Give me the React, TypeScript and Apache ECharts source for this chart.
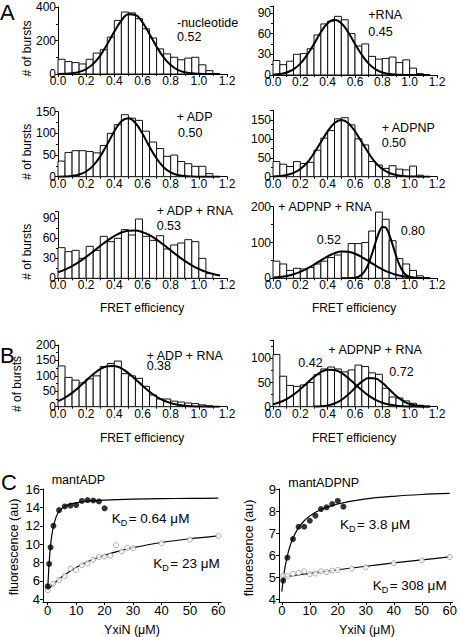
import React, { useEffect, useRef } from 'react';
import * as echarts from 'echarts';

const FONT = '"Liberation Sans", Arial, Helvetica, sans-serif';
const BIN = 0.05;

// ---- Histogram counts (bins of width 0.05 starting at 0.0) ----
const histNoNuc = [88, 74, 68, 60, 88, 125, 145, 220, 320, 370, 365, 330, 270, 215, 150, 120, 100, 85, 95, 100, 55, 20];
const histRNA = [21, 15, 20, 30, 31, 38, 58, 74, 78, 85, 80, 60, 42, 45, 27, 23, 24, 26, 18, 22, 10, 2];
const histADP = [36, 56, 60, 60, 58, 55, 72, 100, 120, 143, 135, 130, 105, 80, 65, 47, 50, 35, 30, 24, 24, 7];
const histADPNP = [40, 33, 27, 40, 35, 38, 70, 102, 122, 153, 156, 137, 100, 84, 40, 31, 22, 29, 20, 18, 28, 4];
const histADPRNA = [46, 40, 42, 30, 48, 42, 63, 55, 60, 73, 65, 89, 63, 57, 64, 44, 50, 53, 58, 55, 30, 7];
const histADPNPRNA = [48, 40, 22, 28, 26, 30, 40, 48, 58, 65, 75, 97, 97, 100, 132, 185, 165, 105, 55, 40, 22, 7];
const histB_ADPRNA = [132, 95, 86, 77, 90, 100, 130, 140, 148, 107, 100, 92, 66, 38, 25, 25, 18, 15, 12, 10, 6, 3];
const histB_ADPNPRNA = [108, 63, 44, 42, 45, 50, 66, 78, 82, 78, 72, 76, 86, 83, 70, 67, 38, 20, 18, 12, 7, 3];

// ---- Gaussian fit curves ----
const fitX = [0, 0.05, 0.1, 0.15, 0.2, 0.25, 0.3, 0.35, 0.4, 0.45, 0.5, 0.55, 0.6, 0.65, 0.7, 0.75, 0.8, 0.85, 0.9, 0.95, 1.0, 1.05, 1.1, 1.15];
const fitNoNuc = [0.5, 1.6, 4.8, 12.6, 29.5, 60.6, 110, 178, 253, 319, 356, 352, 308, 238, 163, 99, 53, 25, 10.5, 3.9, 1.3, 0.4, 0.1, 0];
const fitRNA = [0.5, 1.4, 3.6, 8.2, 16.4, 29, 45, 62, 75, 80, 75, 62, 45, 29, 16.4, 8.2, 3.6, 1.4, 0.5, 0.15, 0, 0, 0, 0];
const fitADP = [0.15, 0.55, 1.8, 4.9, 12, 25.5, 47, 75, 105, 128, 135, 124, 99, 69, 42, 22, 10, 4, 1.4, 0.4, 0.1, 0, 0, 0];
const fitADPNP = [0.6, 1.7, 4.3, 9.9, 20.3, 37, 62, 91, 120, 142, 150, 142, 120, 91, 62, 37, 20.3, 9.9, 4.3, 1.7, 0.6, 0.2, 0, 0];
const fitADPRNA = [9.0, 13.1, 18.3, 24.7, 32.1, 40.3, 48.7, 56.6, 63.5, 68.7, 71.5, 71.8, 69.4, 64.7, 58.1, 50.3, 42.0, 33.7, 26.1, 19.5, 14.0, 9.7, 6.5, 4.2];
const fitADPNPRNAlow = [1.7, 3.5, 6.4, 11.1, 18.0, 27.2, 38.2, 50.1, 61.4, 70.0, 74.6, 74.1, 68.6, 59.3, 47.8, 35.9, 25.2, 16.5, 10.0, 5.7, 3.0, 1.5, 0.7, 0.3];
const fitADPNPRNAhighX = [0.5, 0.55, 0.6, 0.625, 0.65, 0.675, 0.7, 0.725, 0.75, 0.775, 0.8, 0.825, 0.85, 0.875, 0.9, 0.925, 0.95, 0.975, 1.0, 1.05, 1.1, 1.15];
const fitADPNPRNAhigh = [0, 0.14, 1.6, 4.3, 10.5, 22.4, 42, 69, 100, 128, 143.5, 141.7, 123, 94, 63, 37.4, 19.5, 8.9, 3.6, 0.4, 0, 0];
const fitB_ADPRNA = [18, 29.4, 44.9, 63.9, 84.9, 105.2, 121.7, 131.4, 132.3, 124.3, 109, 89.1, 68, 48.5, 32.2, 20, 11.6, 6.2, 3.1, 1.5, 0.65, 0.3, 0.1, 0];
const fitB_low = [5.0, 9.3, 15.8, 24.9, 36.4, 49.2, 61.6, 71.4, 76.5, 75.9, 69.7, 59.3, 46.6, 34, 22.9, 14.3, 8.2, 4.4, 2.2, 1.0, 0.4, 0.15, 0, 0];
const fitB_highX = [0.3, 0.35, 0.4, 0.45, 0.5, 0.55, 0.6, 0.65, 0.7, 0.75, 0.8, 0.85, 0.9, 0.95, 1.0, 1.05, 1.1, 1.15];
const fitB_high = [0.3, 0.95, 2.7, 6.6, 13.8, 25, 38.8, 51.7, 59.3, 58.4, 49.4, 36, 22.5, 12.1, 5.6, 2.2, 0.8, 0.2];

// ---- Panel C titrations ----
const cADPx = [0, 0.5, 1, 2, 4, 6, 8, 10, 12, 14, 16, 18, 20];
const cADPy = [5.4, 7.85, 9.65, 12.0, 13.7, 14.1, 14.2, 14.25, 14.7, 14.8, 14.75, 14.65, 13.9];
const cADPlowX = [0, 2, 4, 6, 8, 10, 12, 14, 16, 18, 20, 22, 24, 26, 28, 30, 40, 50, 60];
const cADPlowY = [5.0, 5.7, 6.1, 6.55, 7.35, 7.2, 7.7, 7.9, 8.3, 8.6, 8.65, 8.75, 9.9, 9.2, 9.6, 9.55, 10.1, 10.5, 10.9];
const fitCADPx = [0, 0.5, 1, 1.5, 2, 3, 4, 6, 8, 10, 15, 20, 30, 40, 50, 60];
const fitCADPy = [5.1, 8.0, 9.9, 11.1, 11.9, 13.0, 13.6, 14.1, 14.35, 14.5, 14.7, 14.8, 14.9, 14.95, 14.98, 15.0];
const fitCADPlowX = [0, 2, 5, 10, 15, 20, 25, 30, 40, 50, 60];
const fitCADPlowY = [5.0, 5.65, 6.46, 7.47, 8.22, 8.8, 9.25, 9.62, 10.18, 10.59, 10.9];

const cADPNPx = [0.5, 2, 4, 6, 8, 10, 12, 14, 16, 18, 20, 22];
const cADPNPy = [4.85, 5.89, 6.73, 7.29, 7.29, 7.56, 7.79, 8.09, 8.17, 8.32, 8.46, 8.2];
const cADPNPlowX = [0.5, 2, 4, 6, 8, 10, 12, 14, 16, 18, 20, 25, 30, 40, 50, 60];
const cADPNPlowY = [5.07, 5.05, 5.15, 5.2, 5.27, 5.14, 5.17, 5.27, 5.24, 5.3, 5.33, 5.4, 5.45, 5.64, 5.77, 5.92];
const fitCADPNPx = [0, 1, 2, 3, 4, 6, 8, 10, 14, 20, 30, 40, 50, 60];
const fitCADPNPy = [4.35, 5.34, 5.98, 6.44, 6.78, 7.25, 7.56, 7.78, 8.07, 8.32, 8.55, 8.67, 8.75, 8.8];
const fitCADPNPlowX = [0, 10, 20, 30, 40, 50, 60];
const fitCADPNPlowY = [5.0, 5.18, 5.34, 5.5, 5.65, 5.79, 5.92];

const cXTicks = [0, 10, 20, 30, 40, 50, 60];
const cADPYTicks = [4, 6, 8, 10, 12, 14, 16];
const cADPNPYTicks = [4, 5, 6, 7, 8, 9];

const zip = (xs: number[], ys: number[]) => xs.map((x, i) => [x, ys[i]]);

const axisLineStyle = { show: true, onZero: false, lineStyle: { color: '#000', width: 1 } };
const tickStyle = { show: true, inside: false, length: 3, lineStyle: { color: '#000', width: 1 } };
const minorStyle = { show: true, splitNumber: 2, length: 2, lineStyle: { color: '#000', width: 1 } };

function histX(idx: number) {
  return {
    gridIndex: idx, type: 'value', min: 0, max: 1.2, interval: 0.2,
    axisLine: axisLineStyle, axisTick: tickStyle, minorTick: minorStyle,
    splitLine: { show: false },
    axisLabel: { fontSize: 12, fontFamily: FONT, color: '#000', margin: 1, formatter: (v: number) => v.toFixed(1) },
  };
}
function histY(idx: number, max: number, interval: number) {
  return {
    gridIndex: idx, type: 'value', min: 0, max, interval,
    axisLine: axisLineStyle, axisTick: tickStyle, minorTick: minorStyle,
    splitLine: { show: false },
    axisLabel: { fontSize: 12, fontFamily: FONT, color: '#000', margin: 2, showMaxLabel: max % interval === 0 },
  };
}
function cAxis(idx: number, min: number, max: number, ticks: number[], isX: boolean) {
  return {
    gridIndex: idx, type: 'value', min, max,
    axisLine: axisLineStyle,
    axisTick: { ...tickStyle, customValues: ticks },
    splitLine: { show: false },
    axisLabel: { fontSize: 13, fontFamily: FONT, color: '#000', margin: isX ? 2 : 3, customValues: ticks },
  };
}

function histSeries(idx: number, counts: number[]) {
  return {
    type: 'custom', xAxisIndex: idx, yAxisIndex: idx, silent: true, z: 2,
    encode: { x: 0, y: 1 },
    data: counts.map((c, i) => [i * BIN, c]),
    renderItem: (params: any, api: any) => {
      const x0 = api.value(0);
      const y = api.value(1);
      const p0 = api.coord([x0, y]);
      const p1 = api.coord([x0 + BIN, 0]);
      return {
        type: 'rect',
        shape: { x: p0[0], y: p0[1], width: p1[0] - p0[0], height: p1[1] - p0[1] },
        style: { fill: '#fff', stroke: '#111', lineWidth: 1 },
      };
    },
  };
}
function fitSeries(idx: number, xs: number[], ys: number[], width = 2, smooth: number = 0.4) {
  return {
    type: 'line', xAxisIndex: idx, yAxisIndex: idx, silent: true, z: 3,
    data: zip(xs, ys), symbol: 'none', showSymbol: false, smooth,
    lineStyle: { color: '#000', width },
  };
}
function dotSeries(idx: number, xs: number[], ys: number[], filled: boolean) {
  return {
    type: 'scatter', xAxisIndex: idx, yAxisIndex: idx, silent: true, z: 4,
    data: zip(xs, ys), symbol: 'circle', symbolSize: filled ? 6 : 5,
    itemStyle: filled ? { color: '#000' } : { color: '#fff', borderColor: '#888', borderWidth: 0.9 },
  };
}

function txt(text: string, x: number, y: number, opts: any = {}) {
  return {
    type: 'text', x, y, silent: true, rotation: opts.rotation || 0,
    style: {
      text, fontSize: opts.size || 12.5, fontFamily: FONT, fill: '#000',
      align: opts.align || 'left', verticalAlign: 'middle',
    },
  };
}
function kd(x: number, y: number, rest: string) {
  return [
    txt('K', x, y, { size: 13.5 }),
    txt('D', x + 9, y + 5, { size: 9 }),
    txt(rest, x + 17, y, { size: 13.5 }),
  ];
}

export default function App() {
  const ref = useRef<HTMLDivElement>(null);
  useEffect(() => {
    if (!ref.current) return;
    const chart = echarts.init(ref.current, undefined, { renderer: 'svg' });
    const grids = [
      { left: 58, top: 7, width: 169, height: 67 },
      { left: 273, top: 6, width: 164, height: 69 },
      { left: 58, top: 111.7, width: 169, height: 65 },
      { left: 273, top: 110.5, width: 164, height: 66.2 },
      { left: 58, top: 211.7, width: 169, height: 66.6 },
      { left: 273, top: 206.7, width: 164, height: 71.6 },
      { left: 58, top: 345, width: 169, height: 61.7 },
      { left: 273, top: 340.4, width: 164, height: 66.3 },
      { left: 42.9, top: 489, width: 178.3, height: 113.1 },
      { left: 279, top: 489, width: 176.7, height: 113.2 },
    ];
    const rot = Math.PI / 2;
    const option: any = {
      animation: false,
      textStyle: { fontFamily: FONT },
      grid: grids.map((g) => ({ ...g, containLabel: false })),
      xAxis: [
        histX(0), histX(1), histX(2), histX(3), histX(4), histX(5), histX(6), histX(7),
        cAxis(8, -1.7, 61, cXTicks, true), cAxis(9, -1, 61, cXTicks, true),
      ],
      yAxis: [
        histY(0, 400, 200), histY(1, 100, 30), histY(2, 150, 50), histY(3, 175, 50),
        histY(4, 100, 30), histY(5, 200, 100), histY(6, 200, 50), histY(7, 137, 50),
        cAxis(8, 3.7, 16, cADPYTicks, false), cAxis(9, 3.87, 9, cADPNPYTicks, false),
      ],
      series: [
        histSeries(0, histNoNuc), fitSeries(0, fitX, fitNoNuc),
        histSeries(1, histRNA), fitSeries(1, fitX, fitRNA),
        histSeries(2, histADP), fitSeries(2, fitX, fitADP),
        histSeries(3, histADPNP), fitSeries(3, fitX, fitADPNP),
        histSeries(4, histADPRNA), fitSeries(4, fitX, fitADPRNA),
        histSeries(5, histADPNPRNA), fitSeries(5, fitX, fitADPNPRNAlow), fitSeries(5, fitADPNPRNAhighX, fitADPNPRNAhigh, 2, 0.3),
        histSeries(6, histB_ADPRNA), fitSeries(6, fitX, fitB_ADPRNA),
        histSeries(7, histB_ADPNPRNA), fitSeries(7, fitX, fitB_low), fitSeries(7, fitB_highX, fitB_high),
        fitSeries(8, fitCADPx, fitCADPy, 1.2, 0.3), fitSeries(8, fitCADPlowX, fitCADPlowY, 1.2, 0.3),
        dotSeries(8, cADPlowX, cADPlowY, false), dotSeries(8, cADPx, cADPy, true),
        fitSeries(9, fitCADPNPx, fitCADPNPy, 1.2, 0.3), fitSeries(9, fitCADPNPlowX, fitCADPNPlowY, 1.2, 0.3),
        dotSeries(9, cADPNPlowX, cADPNPlowY, false), dotSeries(9, cADPNPx, cADPNPy, true),
      ],
      graphic: [
        txt('A', 0, 12, { size: 22 }),
        txt('B', 0, 355, { size: 22 }),
        txt('C', 1, 482, { size: 22 }),
        txt('# of bursts', 26.7, 48.5, { size: 12, rotation: rot, align: 'center' }),
        txt('# of bursts', 26.7, 151.7, { size: 12, rotation: rot, align: 'center' }),
        txt('# of bursts', 26.7, 251.7, { size: 12, rotation: rot, align: 'center' }),
        txt('# of bursts', 17, 384, { size: 12, rotation: rot, align: 'center' }),
        txt('FRET efficiency', 142, 308.3, { size: 12, align: 'center' }),
        txt('FRET efficiency', 354, 308.3, { size: 12, align: 'center' }),
        txt('FRET efficiency', 142, 438.3, { size: 12, align: 'center' }),
        txt('FRET efficiency', 354, 438.3, { size: 12, align: 'center' }),
        txt('-nucleotide', 177, 23.3),
        txt('0.52', 177, 36.7),
        txt('+RNA', 368.3, 15),
        txt('0.45', 368.3, 31.7),
        txt('+ ADP', 176.7, 116.7),
        txt('0.50', 178, 132.7),
        txt('+ ADPNP', 381.7, 127.7),
        txt('0.50', 381.7, 143.3),
        txt('+ ADP + RNA', 156.7, 210.7),
        txt('0.53', 156.7, 226),
        txt('+ ADPNP + RNA', 278.3, 207.3),
        txt('0.52', 316.7, 240),
        txt('0.80', 400.7, 231),
        txt('+ ADP + RNA', 146.7, 356),
        txt('0.38', 146.7, 366),
        txt('+ ADPNP + RNA', 328.3, 349.5),
        txt('0.42', 298.3, 363.3),
        txt('0.72', 389.3, 371.7),
        txt('mantADP', 51.7, 480),
        txt('mantADPNP', 288.3, 482.7),
        ...kd(111.7, 518.3, '= 0.64 \u03bcM'),
        ...kd(153.3, 563.3, '= 23 \u03bcM'),
        ...kd(340, 524, '= 3.8 \u03bcM'),
        ...kd(372.7, 585, '= 308 \u03bcM'),
        txt('YxiN (\u03bcM)', 132, 630, { align: 'center' }),
        txt('YxiN (\u03bcM)', 367, 630, { align: 'center' }),
        txt('fluorescence (au)', 14, 547, { rotation: rot, align: 'center' }),
        txt('fluorescence (au)', 249, 548, { rotation: rot, align: 'center' }),
      ],
    };
    chart.setOption(option);
    return () => chart.dispose();
  }, []);
  return (
    <div
      ref={ref}
      style={{ position: 'absolute', left: 0, top: 0, width: 460, height: 637, background: '#fff' }}
    />
  );
}
